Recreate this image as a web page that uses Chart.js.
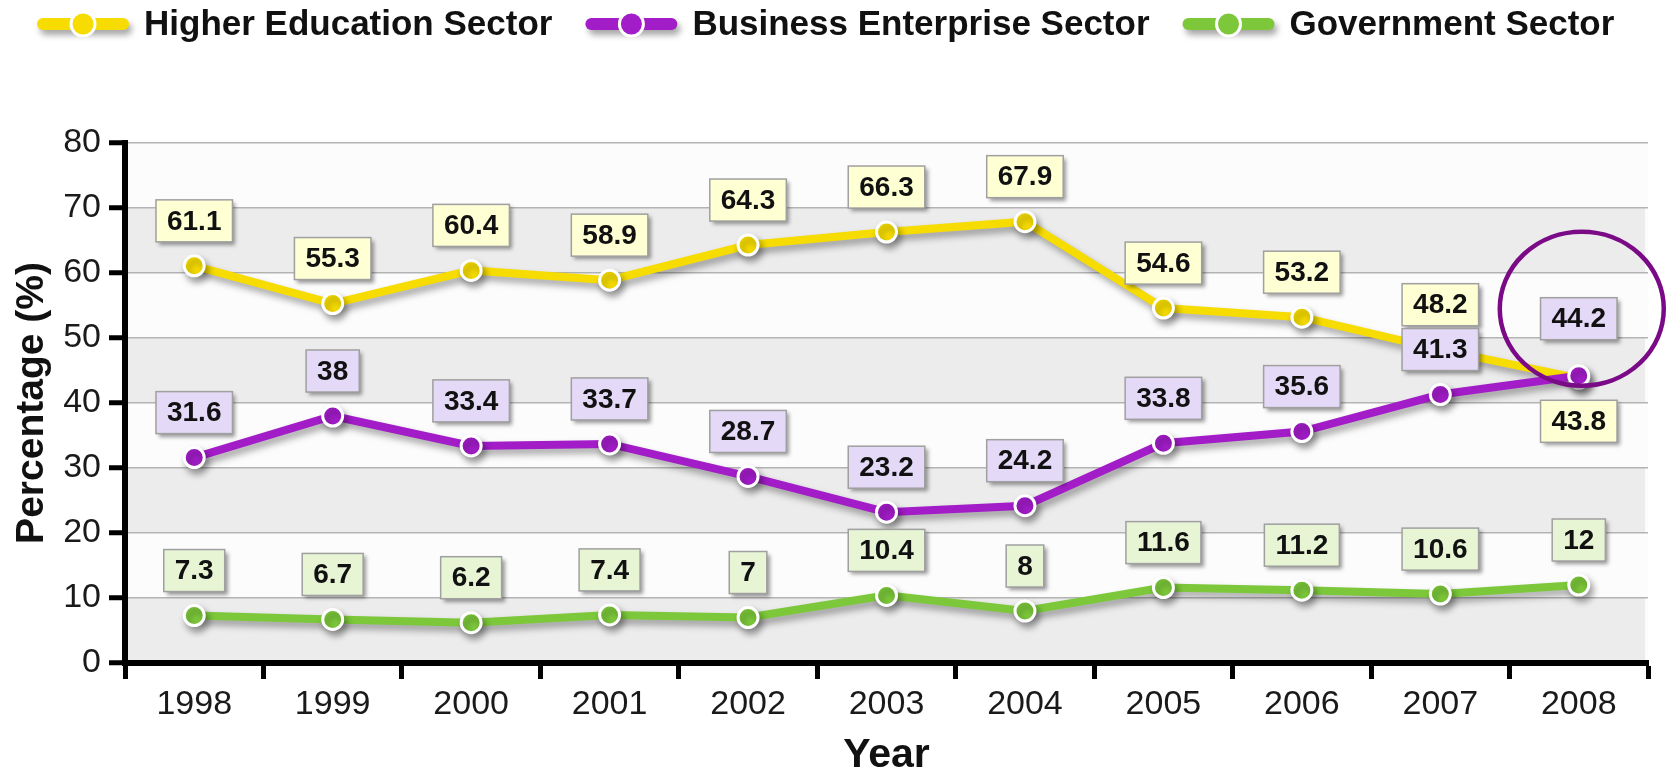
<!DOCTYPE html>
<html>
<head>
<meta charset="utf-8">
<title>R&amp;D Expenditure by Sector</title>
<script src="https://cdn.jsdelivr.net/npm/chart.js@4/dist/chart.umd.min.js"></script>
<style>
  html, body { margin: 0; padding: 0; background: #fff; }
  #wrap { width: 1667px; height: 778px; }
</style>
</head>
<body>
<div id="wrap"><canvas id="chart" width="1667" height="778"></canvas></div>
<script>
// Share of expenditure by performing sector, 1998-2008
const years = ['1998', '1999', '2000', '2001', '2002', '2003', '2004', '2005', '2006', '2007', '2008'];
const higherEducation = [61.1, 55.3, 60.4, 58.9, 64.3, 66.3, 67.9, 54.6, 53.2, 48.2, 43.8];
const businessEnterprise = [31.6, 38, 33.4, 33.7, 28.7, 23.2, 24.2, 33.8, 35.6, 41.3, 44.2];
const government = [7.3, 6.7, 6.2, 7.4, 7, 10.4, 8, 11.6, 11.2, 10.6, 12];
const yTicks = [0, 10, 20, 30, 40, 50, 60, 70, 80];

const FONT = "'Liberation Sans', Arial, sans-serif";

// Series colours: line, label box fill; order puts business on top of higher ed
const SERIES = [
  { label: 'Higher Education Sector', data: higherEducation, color: '#f6dc00', box: '#ffffd4', order: 3 },
  { label: 'Business Enterprise Sector', data: businessEnterprise, color: '#a21cc8', box: '#e4d9f7', order: 2 },
  { label: 'Government Sector', data: government, color: '#7cc83a', box: '#e7f5d5', order: 1 },
];

// Label placement exceptions: [datasetIndex, pointIndex] -> vertical offset of box centre
function labelOffset(ds, i) {
  if (ds === 0 && i === 10) return 43;   // 43.8 sits under its point
  if (ds === 1 && i === 10) return -57;
  return -45;
}

// Alternating grey bands behind the plot
const bandsPlugin = {
  id: 'bands',
  beforeDraw(chart) {
    const { ctx, chartArea: a, scales: { y } } = chart;
    ctx.save();
    ctx.fillStyle = '#ffffff';
    ctx.fillRect(0, 0, chart.width, chart.height);
    ctx.fillStyle = '#fcfcfc';
    ctx.fillRect(a.left, a.top, a.right - a.left, a.bottom - a.top);
    ctx.fillStyle = '#ececec';
    for (let v = 0; v < 80; v += 20) {
      const top = y.getPixelForValue(v + 10);
      const bottom = y.getPixelForValue(v);
      ctx.fillRect(a.left, top, a.right - a.left - 3, bottom - top);
    }
    ctx.restore();
  }
};

// Soft drop shadow under each line
const shadowPlugin = {
  id: 'lineShadow',
  beforeDatasetDraw(chart) {
    const ctx = chart.ctx;
    ctx.save();
    ctx.shadowColor = 'rgba(0, 0, 0, 0.35)';
    ctx.shadowBlur = 7;
    ctx.shadowOffsetX = 3;
    ctx.shadowOffsetY = 5;
  },
  afterDatasetDraw(chart) {
    chart.ctx.restore();
  }
};

// Value boxes above the points, plus the ring around the 2008 business value
const valueBoxPlugin = {
  id: 'valueBoxes',
  afterDatasetsDraw(chart) {
    const ctx = chart.ctx;
    ctx.save();
    ctx.font = `bold 28px ${FONT}`;
    ctx.textAlign = 'center';
    ctx.textBaseline = 'middle';
    chart.data.datasets.forEach((ds, d) => {
      const meta = chart.getDatasetMeta(d);
      meta.data.forEach((pt, i) => {
        const text = String(ds.data[i]);
        const w = ctx.measureText(text).width + 22;
        const h = 42;
        const cx = pt.x;
        const cy = pt.y + labelOffset(d, i);
        ctx.save();
        ctx.shadowColor = 'rgba(0, 0, 0, 0.4)';
        ctx.shadowBlur = 4;
        ctx.shadowOffsetX = 3;
        ctx.shadowOffsetY = 3;
        ctx.fillStyle = SERIES[d].box;
        ctx.fillRect(cx - w / 2, cy - h / 2, w, h);
        ctx.restore();
        ctx.strokeStyle = '#a0a0a0';
        ctx.lineWidth = 1.5;
        ctx.strokeRect(cx - w / 2, cy - h / 2, w, h);
        ctx.fillStyle = '#111';
        ctx.fillText(text, cx, cy + 1);
      });
    });

    const last = chart.getDatasetMeta(1).data[10];
    ctx.beginPath();
    ctx.ellipse(last.x + 3, last.y - 67, 82, 77, 0, 0, Math.PI * 2);
    ctx.strokeStyle = '#7a0a86';
    ctx.lineWidth = 4.5;
    ctx.stroke();
    ctx.restore();
  }
};

// Legend row along the top edge
const legendPlugin = {
  id: 'topLegend',
  afterDraw(chart) {
    const ctx = chart.ctx;
    const y = 24;
    let x = 37;
    ctx.save();
    ctx.font = `bold 35px ${FONT}`;
    ctx.textBaseline = 'middle';
    chart.data.datasets.forEach((ds, d) => {
      const color = SERIES[d].color;
      ctx.save();
      ctx.shadowColor = 'rgba(0, 0, 0, 0.35)';
      ctx.shadowBlur = 6;
      ctx.shadowOffsetX = 3;
      ctx.shadowOffsetY = 5;
      ctx.strokeStyle = color;
      ctx.lineWidth = 12;
      ctx.lineCap = 'round';
      ctx.beginPath();
      ctx.moveTo(x + 6, y);
      ctx.lineTo(x + 86, y);
      ctx.stroke();
      ctx.restore();
      ctx.beginPath();
      ctx.arc(x + 46, y, 12, 0, Math.PI * 2);
      ctx.fillStyle = color;
      ctx.fill();
      ctx.strokeStyle = '#fff';
      ctx.lineWidth = 3;
      ctx.stroke();
      ctx.fillStyle = '#111';
      ctx.fillText(ds.label, x + 107, y + 1);
      x += 107 + ctx.measureText(ds.label).width + 33;
    });
    ctx.restore();
  }
};

new Chart(document.getElementById('chart'), {
  type: 'line',
  data: {
    labels: years,
    datasets: SERIES.map(s => ({
      label: s.label,
      data: s.data,
      order: s.order,
      borderColor: s.color,
      backgroundColor: s.color,
      borderWidth: 8,
      tension: 0,
      pointRadius: 10,
      pointBorderWidth: 3,
      pointBorderColor: '#ffffff',
      pointBackgroundColor: s.color,
    }))
  },
  options: {
    responsive: false,
    animation: false,
    layout: { padding: { top: 143, right: 19, left: 0, bottom: 0 } },
    plugins: {
      legend: { display: false },
      tooltip: { enabled: false }
    },
    scales: {
      x: {
        offset: true,
        afterFit: s => { s.height = 115; },
        grid: {
          offset: true,
          drawOnChartArea: false,
          tickLength: 16,
          tickWidth: 5,
          tickColor: '#000'
        },
        border: { display: true, width: 6, color: '#000' },
        ticks: {
          color: '#1a1a1a',
          padding: 5,
          font: { family: FONT, size: 34 }
        },
        title: {
          display: true,
          text: 'Year',
          color: '#111',
          padding: { top: 0, bottom: 2 },
          font: { family: FONT, size: 41, weight: 'bold', lineHeight: 1 }
        }
      },
      y: {
        min: 0,
        max: 80,
        afterFit: s => { s.width = 125; },
        afterBuildTicks: s => { s.ticks = yTicks.map(v => ({ value: v })); },
        grid: {
          color: '#b3b3b3',
          lineWidth: 1.5,
          tickLength: 16,
          tickWidth: 5,
          tickColor: '#000'
        },
        border: { display: true, width: 6, color: '#000' },
        ticks: {
          color: '#1a1a1a',
          padding: 8,
          font: { family: FONT, size: 34 }
        },
        title: {
          display: true,
          text: 'Percentage (%)',
          color: '#111',
          padding: { top: 13, bottom: 0 },
          font: { family: FONT, size: 39, weight: 'bold', lineHeight: 1 }
        }
      }
    }
  },
  plugins: [bandsPlugin, shadowPlugin, valueBoxPlugin, legendPlugin]
});
</script>
</body>
</html>
